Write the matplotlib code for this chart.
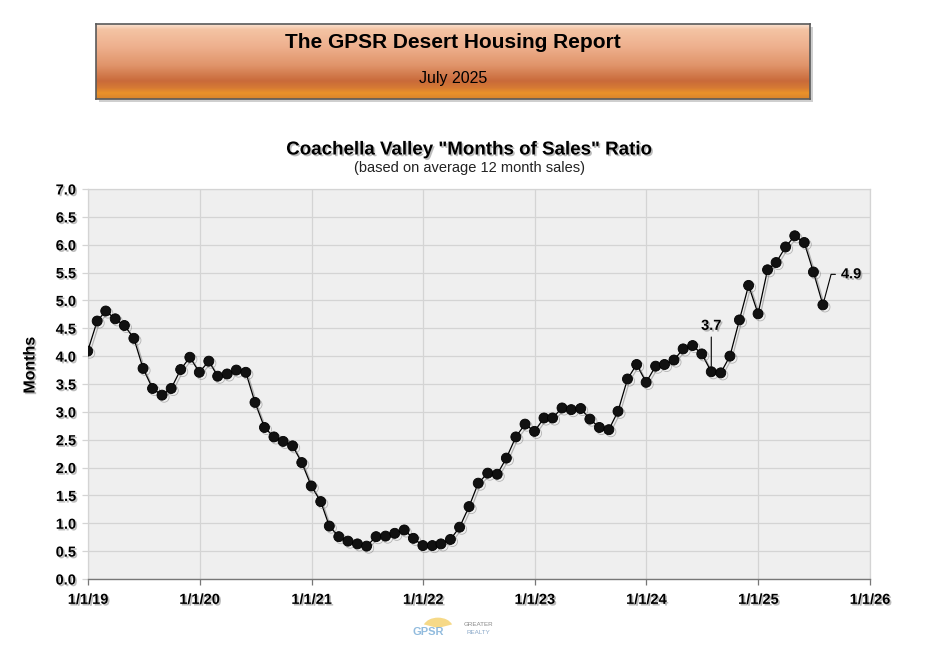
import numpy as np
import pandas as pd
import matplotlib
matplotlib.use("Agg")
import matplotlib.pyplot as plt
import matplotlib.patheffects as pe
from matplotlib.patches import Rectangle, Wedge
from matplotlib.colors import LinearSegmentedColormap

plt.rcParams['font.family'] = ['Liberation Sans', 'DejaVu Sans']

# ---- data ----
report_title = "The GPSR Desert Housing Report"
report_date = "July 2025"
chart_title = 'Coachella Valley "Months of Sales" Ratio'
chart_subtitle = "(based on average 12 month sales)"
y_label = "Months"

dates = pd.date_range("2018-12-31", "2025-07-31", freq="ME")
months_of_sales = [
    4.09, 4.63, 4.81, 4.67, 4.55, 4.32, 3.78, 3.42, 3.30, 3.42, 3.76, 3.98,
    3.71, 3.91, 3.64, 3.68, 3.75, 3.71, 3.17, 2.72, 2.55, 2.47, 2.39, 2.09,
    1.67, 1.39, 0.95, 0.76, 0.68, 0.63, 0.59, 0.76, 0.77, 0.82, 0.88, 0.73,
    0.60, 0.60, 0.63, 0.71, 0.93, 1.30, 1.72, 1.90, 1.88, 2.17, 2.55, 2.78,
    2.65, 2.89, 2.89, 3.07, 3.04, 3.06, 2.87, 2.72, 2.68, 3.01, 3.59, 3.85,
    3.53, 3.82, 3.85, 3.93, 4.13, 4.19, 4.04, 3.72, 3.70, 4.00, 4.65, 5.27,
    4.76, 5.55, 5.68, 5.96, 6.16, 6.04, 5.51, 4.92,
]
x_tick_dates = pd.to_datetime(["2019-01-01", "2020-01-01", "2021-01-01", "2022-01-01",
                               "2023-01-01", "2024-01-01", "2025-01-01", "2026-01-01"])
x_tick_labels = ["1/1/19", "1/1/20", "1/1/21", "1/1/22", "1/1/23", "1/1/24", "1/1/25", "1/1/26"]
y_ticks = [0.0, 0.5, 1.0, 1.5, 2.0, 2.5, 3.0, 3.5, 4.0, 4.5, 5.0, 5.5, 6.0, 6.5, 7.0]
labeled_points = [67, 79]

W, H = 936, 648
fig = plt.figure(figsize=(W / 100, H / 100), dpi=100)
fig.patch.set_facecolor("white")

def fx(px):
    return px / W

def fy(py):
    return 1 - py / H

shadow_txt = [pe.SimplePatchShadow(offset=(1.2, -1.2), shadow_rgbFace="#888888", alpha=0.55), pe.Normal()]

# ---- header banner ----
bx0, bx1, by0, by1 = 96, 810, 24, 99
fig.patches.append(Rectangle((fx(bx0 + 3), fy(by1 + 3)), fx(bx1 - bx0), (by1 - by0) / H,
                             transform=fig.transFigure, facecolor="#b0b0b0", edgecolor="none",
                             alpha=0.6, zorder=1))
hax = fig.add_axes([fx(bx0), fy(by1), fx(bx1 - bx0), (by1 - by0) / H], zorder=2)
grad_cmap = LinearSegmentedColormap.from_list(
    "hdr",
    [(0.0, "#fae4d4"), (0.07, "#f4c4a4"), (0.3, "#eeb08e"), (0.55, "#e0946a"),
     (0.76, "#c96a3a"), (0.85, "#d67a34"), (0.92, "#ea922a"), (1.0, "#d8842c")])
grad = np.linspace(0, 1, 256).reshape(-1, 1)
hax.imshow(grad, aspect="auto", cmap=grad_cmap, extent=[0, 1, 1, 0])
hax.set_xlim(0, 1)
hax.set_ylim(1, 0)
hax.set_xticks([])
hax.set_yticks([])
for s in hax.spines.values():
    s.set_edgecolor("#5a5a5a")
    s.set_linewidth(1.2)

fig.text(fx(453), fy(43), report_title, ha="center", va="center", fontsize=15,
         fontweight="bold", color="black", zorder=5)
fig.text(fx(453), fy(78), report_date, ha="center", va="center", fontsize=11.5,
         color="black", zorder=5)

# ---- chart titles ----
fig.text(fx(469), fy(150), chart_title, ha="center", va="center", fontsize=13.5,
         fontweight="bold", color="black", path_effects=shadow_txt)
fig.text(fx(469), fy(168), chart_subtitle, ha="center", va="center", fontsize=10.5,
         color="#222222")

# ---- main axes ----
ax = fig.add_axes([fx(88), fy(579), fx(870 - 88), (579 - 189) / H])
ax.set_facecolor("#efefef")
ax.plot(dates, months_of_sales, color="black", linewidth=0.9, marker="o",
        markersize=7.2, markerfacecolor="#111111", markeredgecolor="black",
        markeredgewidth=0.6, zorder=3,
        path_effects=[pe.SimpleLineShadow(offset=(1.5, -1.5), shadow_color="#777777", alpha=0.5),
                      pe.Normal()])

ax.set_xlim(pd.Timestamp("2019-01-01"), pd.Timestamp("2026-01-01"))
ax.set_ylim(0, 7)
ax.set_xticks(x_tick_dates)
ax.set_xticklabels(x_tick_labels)
ax.set_yticks(y_ticks)
ax.set_yticklabels([f"{v:.1f}" for v in y_ticks])
ax.grid(True, color="#d4d4d4", linewidth=0.9)
ax.set_axisbelow(True)
for name in ["top", "right", "left"]:
    ax.spines[name].set_color("#d4d4d4")
    ax.spines[name].set_linewidth(0.9)
ax.spines["bottom"].set_color("#777777")
ax.spines["bottom"].set_linewidth(1.0)
ax.tick_params(axis="y", length=4.5, width=0.9, color="#d4d4d4", pad=4)
ax.tick_params(axis="x", length=4.5, width=0.9, color="#777777", pad=5.5)
for lab in ax.get_xticklabels() + ax.get_yticklabels():
    lab.set_fontsize(10.5)
    lab.set_fontweight("bold")
    lab.set_path_effects(shadow_txt)

fig.text(fx(30), fy(365), y_label, rotation=90, ha="center", va="center", fontsize=11.5,
         fontweight="bold", path_effects=shadow_txt)

# ---- point labels ----
i = labeled_points[0]
ax.annotate(f"{months_of_sales[i]:.1f}", xy=(dates[i], months_of_sales[i]),
            xytext=(0, 28), textcoords="offset points", ha="center", va="bottom",
            fontsize=10.5, fontweight="bold", path_effects=shadow_txt,
            arrowprops=dict(arrowstyle="-", color="black", lw=0.8, shrinkA=1, shrinkB=4,
                            relpos=(0.5, 0.0)))
i = labeled_points[1]
ax.annotate(f"{months_of_sales[i]:.1f}", xy=(dates[i], months_of_sales[i]),
            xytext=(13, 22), textcoords="offset points", ha="left", va="center",
            fontsize=10.5, fontweight="bold", path_effects=shadow_txt,
            arrowprops=dict(arrowstyle="-", color="black", lw=0.8, shrinkA=2, shrinkB=4,
                            relpos=(0.0, 0.5),
                            connectionstyle="angle,angleA=0,angleB=75,rad=0"))

# ---- footer logo ----
fig.patches.append(Wedge((fx(438), fy(628)), 0.016, 20, 160,
                         transform=fig.transFigure, facecolor="#f4d06a",
                         edgecolor="none", alpha=0.8))
fig.text(fx(428), fy(632), "GPSR", ha="center", va="center", fontsize=8, fontweight="bold",
         color="#7fb0d8", alpha=0.85)
fig.text(fx(478), fy(625), "GREATER", ha="center", va="center", fontsize=4.5, color="#888888")
fig.text(fx(478), fy(632), "REALTY", ha="center", va="center", fontsize=4.5, color="#8aa8c8")

fig.savefig("out.png", dpi=100, facecolor="white")
